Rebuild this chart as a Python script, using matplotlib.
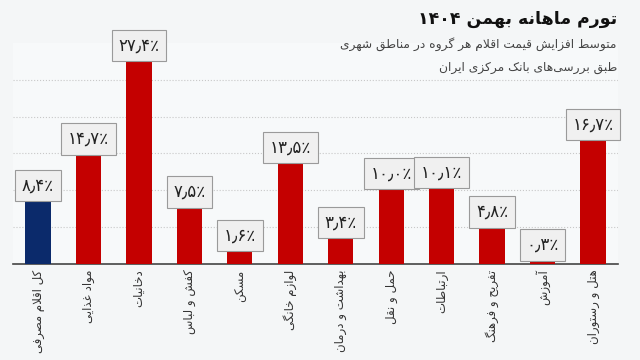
import re
import matplotlib
matplotlib.use('Agg')
import matplotlib.pyplot as plt
import numpy as np

# data
categories = ['کل اقلام مصرفی', 'مواد غذایی', 'دخانیات', 'کفش و لباس', 'مسکن',
              'لوازم خانگی', 'بهداشت و درمان', 'حمل و نقل', 'ارتباطات',
              'تفریح و فرهنگ', 'آموزش', 'هتل و رستوران']
inflation = [8.4, 14.7, 27.4, 7.5, 1.6, 13.5, 3.4, 10.0, 10.1, 4.8, 0.3, 16.7]
title = 'تورم ماهانه بهمن ۱۴۰۴'
subtitle1 = 'متوسط افزایش قیمت اقلام هر گروه در مناطق شهری'
subtitle2 = 'طبق بررسی\u200cهای بانک مرکزی ایران'

# arabic/persian contextual forms: isolated, final, initial, medial
FORMS = {
    'ا': ('\uFE8D', '\uFE8E', None, None), 'آ': ('\uFE81', '\uFE82', None, None),
    'ب': ('\uFE8F', '\uFE90', '\uFE91', '\uFE92'), 'پ': ('\uFB56', '\uFB57', '\uFB58', '\uFB59'),
    'ت': ('\uFE95', '\uFE96', '\uFE97', '\uFE98'), 'ث': ('\uFE99', '\uFE9A', '\uFE9B', '\uFE9C'),
    'ج': ('\uFE9D', '\uFE9E', '\uFE9F', '\uFEA0'), 'چ': ('\uFB7A', '\uFB7B', '\uFB7C', '\uFB7D'),
    'ح': ('\uFEA1', '\uFEA2', '\uFEA3', '\uFEA4'), 'خ': ('\uFEA5', '\uFEA6', '\uFEA7', '\uFEA8'),
    'د': ('\uFEA9', '\uFEAA', None, None), 'ذ': ('\uFEAB', '\uFEAC', None, None),
    'ر': ('\uFEAD', '\uFEAE', None, None), 'ز': ('\uFEAF', '\uFEB0', None, None),
    'ژ': ('\uFB8A', '\uFB8B', None, None),
    'س': ('\uFEB1', '\uFEB2', '\uFEB3', '\uFEB4'), 'ش': ('\uFEB5', '\uFEB6', '\uFEB7', '\uFEB8'),
    'ص': ('\uFEB9', '\uFEBA', '\uFEBB', '\uFEBC'), 'ض': ('\uFEBD', '\uFEBE', '\uFEBF', '\uFEC0'),
    'ط': ('\uFEC1', '\uFEC2', '\uFEC3', '\uFEC4'), 'ظ': ('\uFEC5', '\uFEC6', '\uFEC7', '\uFEC8'),
    'ع': ('\uFEC9', '\uFECA', '\uFECB', '\uFECC'), 'غ': ('\uFECD', '\uFECE', '\uFECF', '\uFED0'),
    'ف': ('\uFED1', '\uFED2', '\uFED3', '\uFED4'), 'ق': ('\uFED5', '\uFED6', '\uFED7', '\uFED8'),
    'ک': ('\uFB8E', '\uFB8F', '\uFB90', '\uFB91'), 'گ': ('\uFB92', '\uFB93', '\uFB94', '\uFB95'),
    'ل': ('\uFEDD', '\uFEDE', '\uFEDF', '\uFEE0'), 'م': ('\uFEE1', '\uFEE2', '\uFEE3', '\uFEE4'),
    'ن': ('\uFEE5', '\uFEE6', '\uFEE7', '\uFEE8'), 'ه': ('\uFEE9', '\uFEEA', '\uFEEB', '\uFEEC'),
    'و': ('\uFEED', '\uFEEE', None, None), 'ی': ('\uFBFC', '\uFBFD', '\uFBFE', '\uFBFF'),
}
LAM_ALEF = {'ا': ('\uFEFB', '\uFEFC'), 'آ': ('\uFEF5', '\uFEF6')}


def joins_next(c):
    return c in FORMS and FORMS[c][2] is not None


def shape(text):
    """Very small persian shaper: contextual forms + visual (rtl) order."""
    out = []
    i = 0
    while i < len(text):
        c = text[i]
        prev = text[i - 1] if i > 0 else ''
        link_prev = c in FORMS and joins_next(prev)
        if c == 'ل' and i + 1 < len(text) and text[i + 1] in LAM_ALEF:
            iso, fin = LAM_ALEF[text[i + 1]]
            out.append(fin if link_prev else iso)
            i += 2
            continue
        if c not in FORMS:
            if c != '\u200c':
                out.append(c)
            i += 1
            continue
        nxt = text[i + 1] if i + 1 < len(text) else ''
        link_next = joins_next(c) and nxt in FORMS
        iso, fin, ini, med = FORMS[c]
        if link_prev and link_next:
            out.append(med)
        elif link_prev:
            out.append(fin)
        elif link_next:
            out.append(ini)
        else:
            out.append(iso)
        i += 1
    vis = ''.join(out[::-1])
    return re.sub(r'[۰-۹0-9٫]+', lambda m: m.group(0)[::-1], vis)


def fa_number(v):
    s = f'{v:.1f}'.translate(str.maketrans('0123456789.', '۰۱۲۳۴۵۶۷۸۹٫'))
    return s + '٪'


plt.rcParams['font.family'] = ['DejaVu Sans']

fig = plt.figure(figsize=(6.4, 3.6), dpi=100, facecolor='#f4f6f7')
ax = fig.add_axes([0.02, 0.267, 0.946, 0.614])
ax.set_facecolor('#f7f9fa')

x = np.arange(len(categories))
colors = ['#0b2a6b'] + ['#c40000'] * (len(categories) - 1)
ax.bar(x, inflation, width=0.5, color=colors, zorder=3)

for xi, v in zip(x, inflation):
    ax.annotate(fa_number(v), (xi, v), xytext=(0, 5.5), textcoords='offset points',
                ha='center', va='bottom', fontsize=12, color='#222222', zorder=4,
                bbox=dict(boxstyle='square,pad=0.4', fc='#f0f0f0', ec='#9a9a9a', lw=0.8))

ax.set_xlim(-0.5, 11.5)
ax.set_ylim(0, 30)
ax.set_yticks([5, 10, 15, 20, 25])
ax.set_yticklabels([])
ax.tick_params(axis='y', length=0)
ax.grid(True, axis='y', linestyle=':', color='#c8c8c8', linewidth=0.8, zorder=0)

ax.set_xticks(x)
ax.set_xticklabels([shape(c) for c in categories], rotation=90, fontsize=8.5, color='#333333')
ax.tick_params(axis='x', length=0, pad=4)

for side in ['left', 'right', 'top']:
    ax.spines[side].set_visible(False)
ax.spines['bottom'].set_color('#444444')
ax.spines['bottom'].set_linewidth(1.2)

fig.text(0.964, 0.948, shape(title), ha='right', va='center', fontsize=12.5,
         fontweight='bold', color='#111111')
fig.text(0.964, 0.878, shape(subtitle1), ha='right', va='center', fontsize=8.8, color='#444444')
fig.text(0.964, 0.812, shape(subtitle2), ha='right', va='center', fontsize=8.8, color='#444444')

fig.savefig('out.png', dpi=100, facecolor=fig.get_facecolor())
